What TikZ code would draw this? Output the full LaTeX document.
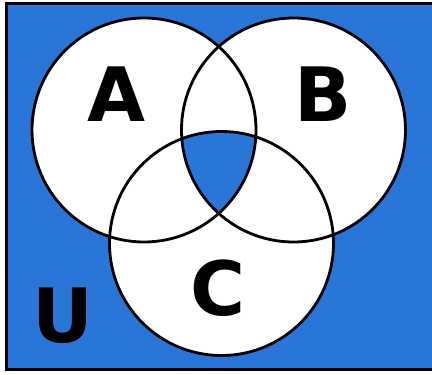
\documentclass[tikz,border=0pt]{standalone}
\usepackage{fontspec}
\setmainfont{DejaVu Sans}
\definecolor{ublue}{RGB}{42,118,216}
\begin{document}
\begin{tikzpicture}[x=1pt,y=-1pt,
  ring/.style={draw=black,line width=2.8pt},
  lbl/.style={inner sep=0pt,font=\fontsize{75}{75}\selectfont\bfseries}]
\useasboundingbox (0,0) rectangle (432,375);
\fill[white] (0,0) rectangle (432,375);
\coordinate (ca) at (144,130);
\coordinate (cb) at (293.5,130);
\coordinate (cc) at (221.5,243.5);
\draw[fill=ublue,line width=3pt] (6,3) rectangle (445,369.5);
\fill[white] (ca) circle (112) (cb) circle (112) (cc) circle (112);
\begin{scope}
  \clip (ca) circle (112);
  \clip (cb) circle (112);
  \fill[ublue] (cc) circle (112);
\end{scope}
\draw[ring] (ca) circle (112);
\draw[ring] (cb) circle (112);
\draw[ring] (cc) circle (112);
\node[lbl] (la) at (117,94.5) {A};
\node[lbl] (lb) at (323,94.5) {B};
\node[lbl] (lc) at (218,288) {C};
\node[lbl] (lu) at (63,315.5) {U};
\end{tikzpicture}
\end{document}
